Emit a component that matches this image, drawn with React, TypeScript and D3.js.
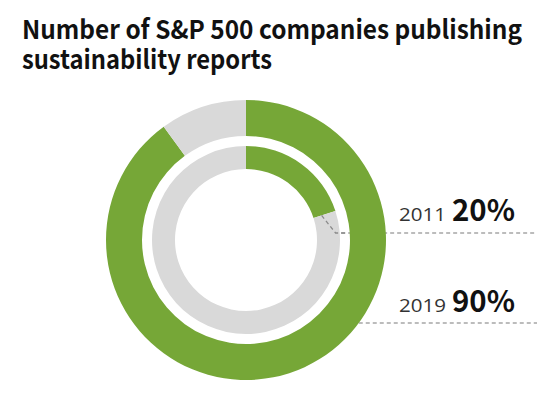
import React from "react";
import * as d3 from "d3";

const titleLines = ["Number of S&P 500 companies publishing", "sustainability reports"];
const years = ["2011", "2019"];
const shares = [20, 90];
const valueLabels = ["20%", "90%"];

const W = 560;
const H = 398;
const cx = 246;
const cy = 240;
const GREEN = "#76a737";
const GRAY = "#d9d9d9";
const FONT = "'Noto Sans CJK JP', 'Noto Sans', sans-serif";

export default function App() {
  const rings = [
    { inner: 71, outer: 94 },
    { inner: 104, outer: 140 },
  ];
  const pie = d3.pie<number>().sort(null).value((d) => d);
  const angle = d3.scaleLinear().domain([0, 100]).range([0, 2 * Math.PI]);

  const a2011 = angle(shares[0]);
  const rMid = (rings[0].inner + rings[0].outer) / 2 - 3;
  const p0 = [cx + rMid * Math.sin(a2011), cy - rMid * Math.cos(a2011)];
  const lineY2011 = 233;
  const lineY2019 = 323;
  const x2019 = cx + Math.sqrt(140 * 140 - (lineY2019 - cy) ** 2);

  return (
    <svg width={W} height={H} style={{ position: "absolute", left: 0, top: 0, background: "#fff" }}>
      <g fontFamily={FONT} fontWeight="bold" fontSize={26} fill="#111">
        <text x={22} y={39} textLength={500} lengthAdjust="spacingAndGlyphs">{titleLines[0]}</text>
        <text x={22} y={69} textLength={250} lengthAdjust="spacingAndGlyphs">{titleLines[1]}</text>
      </g>
      <g stroke="#a6a6a6" strokeWidth={1.3} strokeDasharray="4 3" fill="none">
        <polyline points={`${p0[0]},${p0[1]} ${p0[0] + 14},${lineY2011} 537,${lineY2011}`} />
        <line x1={x2019} y1={lineY2019} x2={537} y2={lineY2019} />
      </g>
      {shares.map((s, i) => {
        const arcs = pie([s, 100 - s]);
        const arcGen = d3.arc<d3.PieArcDatum<number>>().innerRadius(rings[i].inner).outerRadius(rings[i].outer);
        return (
          <g key={i} transform={`translate(${cx},${cy})`}>
            {arcs.map((a, j) => (
              <path key={j} d={arcGen(a) || ""} fill={j === 0 ? GREEN : GRAY} />
            ))}
          </g>
        );
      })}
      <g stroke="#8a8a8a" strokeWidth={1.3} strokeDasharray="4 3" fill="none">
        <polyline points={`${p0[0]},${p0[1]} ${p0[0] + 14},${lineY2011} ${cx + 100},${lineY2011}`} />
      </g>
      {years.map((y, i) => (
        <g key={y}>
          <text x={399} y={i === 0 ? 221 : 312} fill="#333" fontFamily="'Open Sans', 'DejaVu Sans', sans-serif" fontSize={18} textLength={47} lengthAdjust="spacingAndGlyphs">{y}</text>
          <text x={452} y={i === 0 ? 221 : 312} fill="#111" fontFamily={FONT} fontSize={30} fontWeight="bold" textLength={63} lengthAdjust="spacingAndGlyphs">{valueLabels[i]}</text>
        </g>
      ))}
    </svg>
  );
}
